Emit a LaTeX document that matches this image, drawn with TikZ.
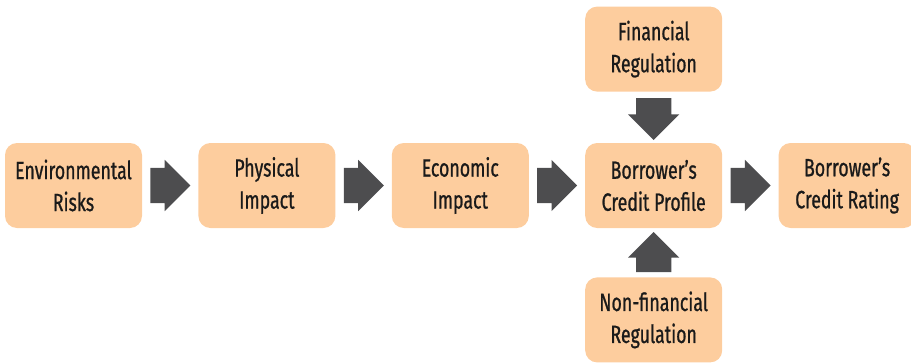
\documentclass[tikz,border=0pt]{standalone}
\usepackage{fontspec}
\setmainfont[FakeStretch=0.71,FakeBold=0.8]{Fira Sans}
\usetikzlibrary{positioning,shapes.arrows}
\definecolor{peach}{HTML}{FDCD9E}
\definecolor{arrowgray}{HTML}{4D4D4F}
\definecolor{textblack}{HTML}{1A1A1A}
\tikzset{
	box/.style={fill=peach,rounded corners=12pt,minimum width=137pt,minimum height=85pt,
		align=center,text=textblack,font=\fontsize{25}{32}\selectfont,inner sep=0pt},
	bigarrow/.style={single arrow,fill=arrowgray,minimum width=51pt,minimum height=40pt,
		single arrow head extend=8pt,inner xsep=0pt,inner ysep=17.5pt,single arrow tip angle=90,anchor=tail},
	vertarrow/.style={bigarrow,inner xsep=17.5pt,inner ysep=0pt}
}
\begin{document}
\begin{tikzpicture}[x=1pt,y=1pt,node distance=56pt]
	\useasboundingbox (0,0) rectangle (911,-362);
	\node[box] (env) at (73.5,-185.5) {Environmental\\Risks};
	\node[box,right=of env] (phys) {Physical\\Impact};
	\node[box,right=of phys] (econ) {Economic\\Impact};
	\node[box,right=of econ] (prof) {Borrower’s\\Credit Profile};
	\node[box,right=of prof] (rating) {Borrower’s\\Credit Rating};
	\node[box,above=51pt of prof] (fin) {Financial\\Regulation};
	\node[box,below=49pt of prof] (nonfin) {Non-financial\\Regulation};
	% block arrows between the boxes
	\node[bigarrow] (a1) at ([xshift=8pt]env.east) {};
	\node[bigarrow] (a2) at ([xshift=8pt]phys.east) {};
	\node[bigarrow] (a3) at ([xshift=8pt]econ.east) {};
	\node[bigarrow] (a4) at ([xshift=8pt]prof.east) {};
	\node[vertarrow,shape border rotate=270,minimum height=42pt] (a5) at ([yshift=-6pt]fin.south) {};
	\node[vertarrow,shape border rotate=90] (a6) at ([yshift=5pt]nonfin.north) {};
\end{tikzpicture}
\end{document}
